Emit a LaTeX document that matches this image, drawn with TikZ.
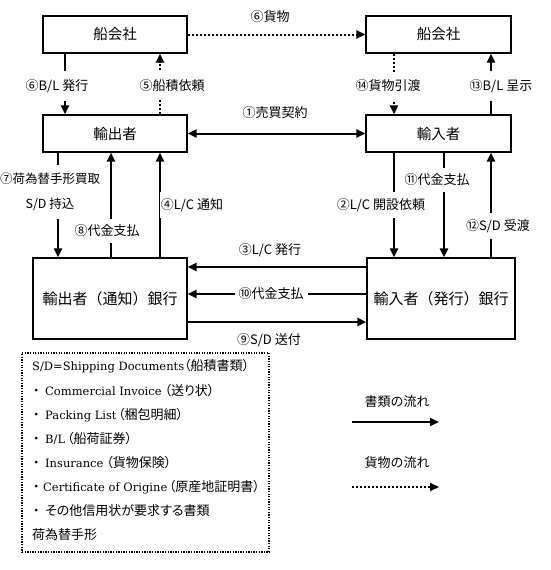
\documentclass[tikz,border=0pt]{standalone}
\usepackage{fontspec}
\setmainfont{Noto Sans CJK JP}
\newfontfamily\jpprop[RawFeature=+palt]{Noto Sans CJK JP}
\newfontfamily\latinserif{DejaVu Serif}
\newcommand{\latx}[1]{{\latinserif\fontsize{11.5}{14}\selectfont #1}}
\newcommand{\bul}[1]{\makebox[#1][l]{\hspace{1pt}・}}
\usetikzlibrary{arrows.meta}
\begin{document}
\begin{tikzpicture}[x=1pt,y=-1pt,
  box/.style={draw, line width=1.2pt, inner sep=0pt, font=\fontsize{14.5}{17}\selectfont},
  doc/.style={line width=2pt, -{Triangle[length=9pt,width=8pt]}},
  goods/.style={line width=2pt, dash pattern=on 2pt off 2pt, -{Triangle[length=9pt,width=8pt]}},
  lab/.style={font=\fontsize{13}{16}\selectfont, inner xsep=1pt, inner ysep=6pt, fill=white},
  plainlab/.style={font=\fontsize{13}{16}\selectfont, inner sep=1pt},
  legtext/.style={anchor=west, font=\jpprop\fontsize{13}{16}\selectfont, inner sep=0pt}
]
\useasboundingbox (0,0) rectangle (550,570);

% boxes
\node[box, minimum width=144pt, minimum height=37pt] (sl) at (115,34.5) {船会社};
\node[box, minimum width=145pt, minimum height=37pt] (sr) at (438.5,34.5) {船会社};
\node[box, minimum width=144pt, minimum height=37pt] (ex) at (115,133.5) {輸出者};
\node[box, minimum width=145pt, minimum height=37pt] (im) at (438.5,133.5) {輸入者};
\node[box, minimum width=154pt, minimum height=81pt, font=\fontsize{15}{18}\selectfont] (eb) at (110,298.5) {輸出者（通知）銀行};
\node[box, minimum width=148pt, minimum height=81pt, font=\fontsize{15}{18}\selectfont] (ib) at (441,298.5) {輸入者（発行）銀行};

% top row
\draw[doc] ([xshift=-50pt]sl.south) -- ([xshift=-50pt]ex.north);
\draw[goods] ([xshift=45pt]ex.north) -- ([xshift=45pt]sl.south);
\draw[goods] (sl.east) -- (sr.west);
\draw[goods] ([xshift=-44.5pt]sr.south) -- ([xshift=-44.5pt]im.north);
\draw[doc] ([xshift=52.5pt]im.north) -- ([xshift=52.5pt]sr.south);
\draw[line width=2pt, {Triangle[length=9pt,width=8pt]}-{Triangle[length=9pt,width=8pt]}] (ex.east) -- (im.west);

% middle row
\coordinate (c7) at ([xshift=-57pt]ex.south);
\coordinate (c8) at ([xshift=-4pt]ex.south);
\coordinate (c4) at ([xshift=45pt]ex.south);
\coordinate (c2) at ([xshift=-44.5pt]im.south);
\coordinate (c11) at ([xshift=5.5pt]im.south);
\coordinate (c12) at ([xshift=52.5pt]im.south);
\draw[doc] (c7) -- (c7 |- eb.north);
\draw[doc] (c8 |- eb.north) -- (c8);
\draw[doc] (c4 |- eb.north) -- (c4);
\draw[doc] (c2) -- (c2 |- ib.north);
\draw[doc] (c11) -- (c11 |- ib.north);
\draw[doc] (c12 |- ib.north) -- (c12);

% bank row
\coordinate (c3) at ([yshift=31.5pt]ib.west);
\coordinate (c10) at ([yshift=4.5pt]ib.west);
\coordinate (c9) at ([yshift=-23.5pt]eb.east);
\draw[doc] (c3) -- (c3 -| eb.east);
\draw[doc] (c10) -- (c10 -| eb.east);
\draw[doc] (c9) -- (c9 -| ib.west);

% labels
\node[lab, inner ysep=8pt] (l6a) at (57,86) {⑥B/L 発行};
\node[lab, inner ysep=8pt] (l5) at (172,86) {⑤船積依頼};
\node[plainlab] (l6b) at (270,17) {⑥貨物};
\node[lab, inner ysep=8pt] (l14) at (388,86) {⑭貨物引渡};
\node[lab, inner ysep=8pt] (l13) at (501,86) {⑬B/L 呈示};
\node[plainlab] (l1) at (275,113) {①売買契約};
\node[lab, align=center, inner ysep=8pt, font=\fontsize{12.5}{25}\selectfont] (l7) at (50,192) {⑦荷為替手形買取\\S/D 持込};
\node[lab] (l8) at (107,231) {⑧代金支払};
\node[lab] (l4) at (192,205) {④L/C 通知};
\node[lab] (l2) at (381,205) {②L/C 開設依頼};
\node[lab] (l11) at (437,180) {⑪代金支払};
\node[lab] (l12) at (498,226) {⑫S/D 受渡};
\node[plainlab] (l3) at (270,250) {③L/C 発行};
\node[lab, inner xsep=4pt] (l10) at (271,294) {⑩代金支払};
\node[plainlab] (l9) at (269,340) {⑨S/D 送付};

% legend box
\node[draw, line width=1.3pt, dash pattern=on 1.3pt off 1.3pt, minimum width=247pt, minimum height=199pt, inner sep=0pt] (leg) at (145.5,452.5) {};
\node[legtext] (t1) at (32,366) {\latx{S/D=Shipping Documents}（船積書類）};
\node[legtext] (t2) at (32,391) {\bul{13pt}\latx{Commercial Invoice} （送り状）};
\node[legtext] (t3) at (32,415) {\bul{13pt}\latx{Packing List}\hspace{1.5pt}（梱包明細）};
\node[legtext] (t4) at (32,439) {\bul{13pt}\latx{B/L}\hspace{2pt}（船荷証券）};
\node[legtext] (t5) at (32,463) {\bul{13pt}\latx{Insurance} （貨物保険）};
\node[legtext] (t6) at (32,487) {\bul{11pt}\latx{Certificate of Origine}\hspace{1.5pt}（原産地証明書）};
\node[legtext] (t7) at (32,511) {\bul{13pt}その他信用状が要求する書類};
\node[legtext] (t8) at (32,535) {荷為替手形};

% legend arrows
\node[plainlab] (k1) at (397,402) {書類の流れ};
\coordinate (a1s) at (352,422);
\coordinate (a1e) at (439,422);
\draw[doc] (a1s) -- (a1e);
\node[plainlab] (k2) at (397,463) {貨物の流れ};
\coordinate (a2s) at (352,487);
\coordinate (a2e) at (439,487);
\draw[goods] (a2s) -- (a2e);
\end{tikzpicture}
\end{document}
